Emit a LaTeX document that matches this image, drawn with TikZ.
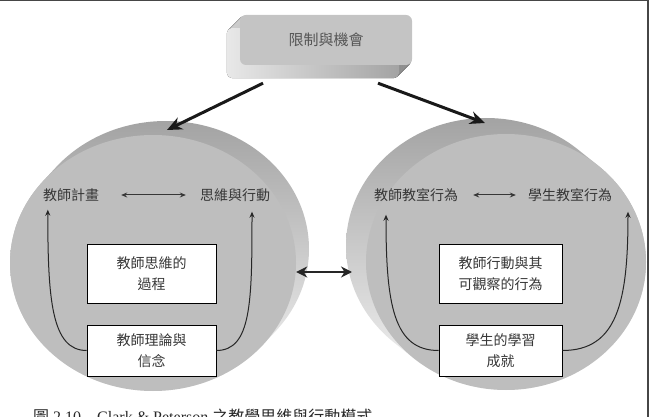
\documentclass[tikz,border=0pt]{standalone}
\usepackage{fontspec}
\setmainfont{Liberation Serif}
\newfontfamily\cjk{Noto Sans CJK TC}
\usetikzlibrary{shapes.geometric, arrows.meta, calc, backgrounds}
\definecolor{frameGray}{RGB}{70,70,70}
\definecolor{txtGray}{RGB}{55,55,55}
\definecolor{diskGray}{RGB}{190,190,190}
\definecolor{capGray}{RGB}{40,40,40}

\begin{document}
\begin{tikzpicture}[x=1pt, y=-1pt,
  face/.style={ellipse, minimum width=286pt, minimum height=256pt,
               inner sep=0pt, fill=diskGray},
  side/.style={top color=gray!72, bottom color=gray!8},
  topbox/.style={rectangle, rounded corners=6pt, fill=gray!46,
                 minimum width=172pt, minimum height=50pt,
                 font=\cjk\fontsize{15}{18}\selectfont, text=txtGray!85},
  lbl/.style={font=\cjk\fontsize{14}{17}\selectfont, text=txtGray, inner sep=2pt},
  box/.style={rectangle, draw=black, line width=0.8pt, fill=white,
              minimum width=129pt, align=center,
              font=\cjk\fontsize{14}{20.5}\selectfont, text=txtGray},
  bigarr/.style={-{Stealth[length=15pt, width=13pt]}, line width=3pt, color=black!90},
  dblarr/.style={{Stealth[length=11pt, width=11pt]}-{Stealth[length=11pt, width=11pt]},
                 line width=2.5pt, color=black!85},
  smallarr/.style={{Stealth[length=6pt, width=5pt]}-{Stealth[length=6pt, width=5pt]},
                   line width=1pt, color=txtGray},
  curvarr/.style={-{Stealth[length=6pt, width=5pt]}, line width=1pt, color=black!85},
]
\useasboundingbox (0,0) rectangle (654,417);

%% Frame
\draw[frameGray, line width=1.5pt] (0,0.75) -- (648,0.75) -- (648,417);

%% Top box
\node[topbox] (limit) at (326,40) {限制與機會};
\begin{scope}[on background layer]
  \foreach \k in {1,...,13}
    \fill[rounded corners=6pt, left color=gray!18, right color=gray!72]
      ([shift={(-\k,\k)}]limit.north west) rectangle ([shift={(-\k,\k)}]limit.south east);
\end{scope}

%% Disks (side sweep, then front face)
\coordinate (lb) at (166,249);
\coordinate (rb) at (486,246);
\coordinate (lfc) at (153,263);
\coordinate (rfc) at (506,262);
\path[side]
  \foreach \k in {0,...,20} { ($(lb)!\k/20!(lfc)$) ellipse [x radius=143, y radius=128] };
\path[side]
  \foreach \k in {0,...,20} { ($(rb)!\k/20!(rfc)$) ellipse [x radius=140, y radius=128] };
\node[face] (lf) at (lfc) {};
\node[face, minimum width=280pt] (rf) at (rfc) {};

%% Left disk
\node[lbl] (plan)  at (71,195)  {教師計畫};
\node[lbl] (think) at (235,195) {思維與行動};
\node[box, minimum height=59pt] (process) at (151.5,273.5) {教師思維的\\過程};
\node[box, minimum height=51pt] (belief)  at (151.5,350.5) {教師理論與\\信念};

%% Right disk
\node[lbl] (tact) at (416,195) {教師教室行為};
\node[lbl] (sact) at (570,195) {學生教室行為};
\node[box, minimum height=59pt, minimum width=123pt] (observe) at (500.5,273.5) {教師行動與其\\可觀察的行為};
\node[box, minimum height=51pt, minimum width=123pt] (achieve) at (500.5,350.5) {學生的學習\\成就};

%% Edges
\draw[bigarr] ([shift={(-63,18)}]limit.south) -- ($(lb)+(1,-119)$);
\draw[bigarr] ([shift={(52,18)}]limit.south) -- ($(rb)+(-1,-123)$);
\draw[dblarr] ($(lf.east)+(0,9)$) -- ($(rb)+(-134,26)$);

\draw[smallarr, shorten <=20pt, shorten >=12pt] (plan.east) -- (think.west);
\draw[smallarr, shorten <=13pt, shorten >=10pt] (tact.east) -- (sact.west);

\draw[curvarr] (belief.west) .. controls +(-35,0) and +(0,90) .. ($(plan.south west)+(7,6)$);
\draw[curvarr] (belief.east) .. controls +(35,0) and +(0,90) .. ($(think.south)+(17,8)$);
\draw[curvarr] (achieve.west) .. controls +(-45,0) and +(0,90) .. ($(tact.south)+(-30,11)$);
\draw[curvarr] (achieve.east) .. controls +(55,0) and +(0,90) .. ($(sact.south)+(58,8)$);

%% Caption
\node[anchor=west, font=\fontsize{16}{16}\selectfont, text=capGray, inner sep=0pt] (caption) at (33,416)
  {{\cjk 圖} 2.10\quad Clark \& Peterson {\cjk 之教學思維與行動模式}};
\end{tikzpicture}
\end{document}
